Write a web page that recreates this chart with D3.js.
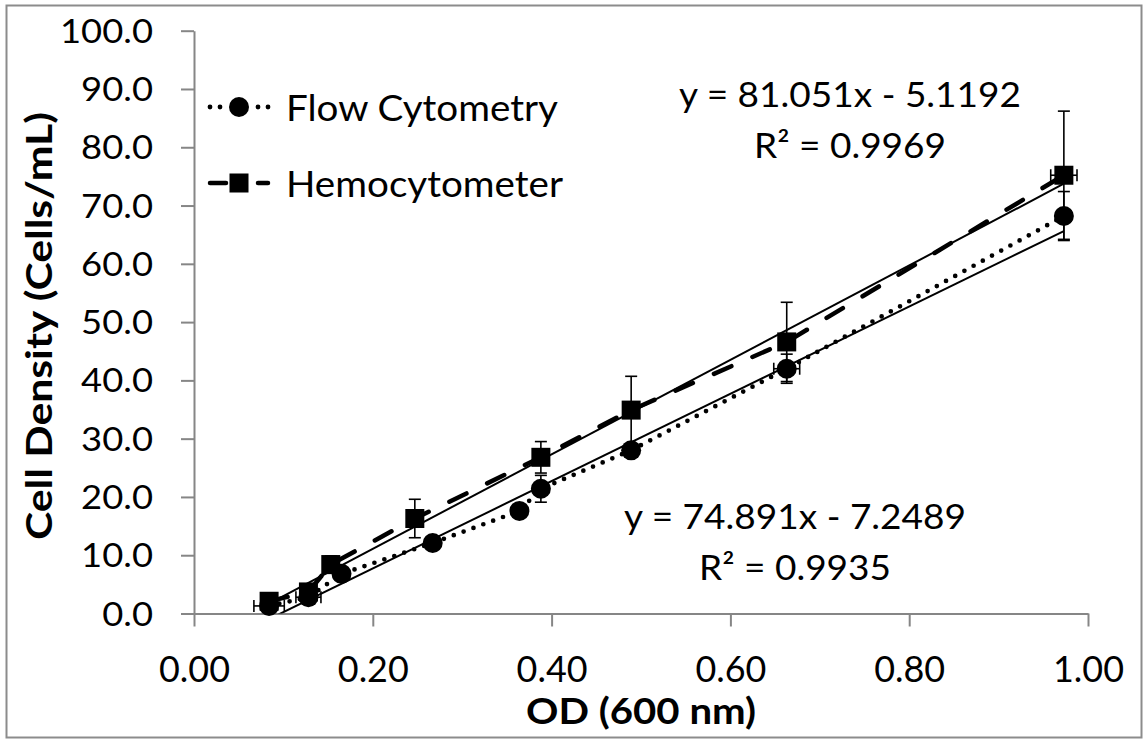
<!DOCTYPE html>
<html>
<head>
<meta charset="utf-8">
<script src="https://cdn.jsdelivr.net/npm/d3@7"></script>
<style>
  html, body { margin: 0; padding: 0; background: #fff; }
  svg { display: block; }
  text { font-family: Lato, "Open Sans", sans-serif; fill: #000; }
</style>
</head>
<body>
<svg id="chart" width="1144" height="740"></svg>
<script>
// ---------- data ----------
const seriesNames = ["Flow Cytometry", "Hemocytometer"];

const flowOD       = [0.084, 0.128, 0.165, 0.267, 0.364, 0.388, 0.489, 0.663, 0.973];
const flowDensity  = [1.3,   2.8,   6.8,   12.1,  17.6,  21.4,  28.0,  42.0,  68.2];
const flowErrY     = [0.5,   0.5,   0.5,   0.8,   0.6,   2.3,   1.0,   2.5,   4.2];
const flowErrX     = [0.017, 0.014, 0.005, 0.005, 0.005, 0.005, 0.005, 0.0145, 0.008];

const hemoOD       = [0.084, 0.128, 0.153, 0.247, 0.388, 0.489, 0.663, 0.973];
const hemoDensity  = [2.1,   3.7,   8.4,   16.3,  26.8,  34.9,  46.6,  75.2];
const hemoErrY     = [0.8,   1.0,   1.5,   3.3,   2.7,   5.8,   6.8,   11.0];
const hemoErrX     = [0.008, 0.008, 0.005, 0.005, 0.005, 0.005, 0.008, 0.0147];

const flowFit = [74.891, -7.2489];
const hemoFit = [81.051, -5.1192];
const flowFitLabels = ["y = 74.891x - 7.2489", "R\u00B2 = 0.9935"];
const hemoFitLabels = ["y = 81.051x - 5.1192", "R\u00B2 = 0.9969"];

const xTicks = [0, 0.2, 0.4, 0.6, 0.8, 1.0];
const yTicks = [0, 10, 20, 30, 40, 50, 60, 70, 80, 90, 100];
const xTitle = "OD (600 nm)";
const yTitle = "Cell Density (Cells/mL)";

// ---------- layout ----------
const svg = d3.select("#chart");
const axisColor = "#868686";
const x = d3.scaleLinear().domain([0, 1]).range([194, 1088]);
const y = d3.scaleLinear().domain([0, 100]).range([613.5, 30.7]);

function stretchTo(sel, targetWidthOfRef, refNode) {
  const refW = refNode.getComputedTextLength();
  const k = targetWidthOfRef / refW;
  sel.each(function () {
    const w = this.getComputedTextLength();
    this.setAttribute("textLength", w * k);
    this.setAttribute("lengthAdjust", "spacingAndGlyphs");
  });
}
function setLen(node, L) {
  node.setAttribute("textLength", L);
  node.setAttribute("lengthAdjust", "spacingAndGlyphs");
}

// outer border
svg.append("rect")
  .attr("x", 6.5).attr("y", 5.5).attr("width", 1135).attr("height", 732)
  .attr("fill", "none").attr("stroke", "#8c8c8c").attr("stroke-width", 2);

// ---------- axes ----------
const yAxis = svg.append("g")
  .attr("transform", `translate(${x(0)},0)`)
  .call(d3.axisLeft(y).tickValues(yTicks).tickFormat(d3.format(".1f"))
        .tickSize(13).tickSizeOuter(0).tickPadding(28));
yAxis.selectAll("path, line").attr("stroke", axisColor).attr("stroke-width", 2);
yAxis.selectAll("text").attr("font-size", 32).attr("font-family", "Lato").attr("dy", "0.36em");
const yTickTexts = yAxis.selectAll("text");
stretchTo(yTickTexts, 93, yTickTexts.nodes()[yTickTexts.size() - 1]);

const xAxis = svg.append("g")
  .attr("transform", `translate(0,${y(0)})`)
  .call(d3.axisBottom(x).tickValues(xTicks).tickFormat(d3.format(".2f"))
        .tickSize(13).tickSizeOuter(0));
xAxis.selectAll("path, line").attr("stroke", axisColor).attr("stroke-width", 2);
xAxis.selectAll("text").attr("font-size", 37).attr("font-family", "Lato")
  .attr("y", 68.2).attr("dy", "0");
const xTickTexts = xAxis.selectAll("text");
stretchTo(xTickTexts, 71, xTickTexts.nodes()[xTickTexts.size() - 1]);

// axis titles
const xt = svg.append("text")
  .attr("x", (x(0) + x(1)) / 2).attr("y", 724)
  .attr("text-anchor", "middle").attr("font-weight", "bold").attr("font-size", 37)
  .text(xTitle);
setLen(xt.node(), 230);

const yt = svg.append("text")
  .attr("transform", `translate(52,326) rotate(-90)`)
  .attr("text-anchor", "middle").attr("font-weight", "bold").attr("font-size", 36)
  .text(yTitle);
setLen(yt.node(), 428);

// ---------- plot ----------
svg.append("clipPath").attr("id", "plotClip")
  .append("rect").attr("x", x(0)).attr("y", y(100))
  .attr("width", x(1) - x(0)).attr("height", y(0) - y(100));

const plot = svg.append("g");
const flowPts = flowOD.map((d, i) => ({ x: d, y: flowDensity[i], ex: flowErrX[i], ey: flowErrY[i] }));
const hemoPts = hemoOD.map((d, i) => ({ x: d, y: hemoDensity[i], ex: hemoErrX[i], ey: hemoErrY[i] }));

const line = d3.line().x(d => x(d.x)).y(d => y(d.y));

// series connecting lines
plot.append("path").datum(flowPts).attr("d", line)
  .attr("fill", "none").attr("stroke", "#000").attr("stroke-width", 4.7)
  .attr("stroke-linecap", "round").attr("stroke-dasharray", "0,10.5");
plot.append("path").datum(hemoPts).attr("d", line)
  .attr("fill", "none").attr("stroke", "#000").attr("stroke-width", 4.5)
  .attr("stroke-linecap", "round").attr("stroke-dasharray", "19,23");

// trendlines
function trend(fit, xs) {
  const x0 = d3.min(xs), x1 = d3.max(xs);
  return [{ x: x0, y: fit[0] * x0 + fit[1] }, { x: x1, y: fit[0] * x1 + fit[1] }];
}
const trendG = plot.append("g").attr("clip-path", "url(#plotClip)");
[[flowFit, flowOD], [hemoFit, hemoOD]].forEach(([fit, xs]) => {
  trendG.append("path").datum(trend(fit, xs)).attr("d", line)
    .attr("fill", "none").attr("stroke", "#000").attr("stroke-width", 2);
});

// error bars
function errorBars(pts) {
  const g = plot.append("g").attr("stroke", "#000").attr("stroke-width", 1.6);
  const cap = 6;
  pts.forEach(p => {
    const cx = x(p.x), cy = y(p.y);
    const yt = y(p.y + p.ey), yb = y(p.y - p.ey);
    g.append("line").attr("x1", cx).attr("x2", cx).attr("y1", yt).attr("y2", yb);
    g.append("line").attr("x1", cx - cap).attr("x2", cx + cap).attr("y1", yt).attr("y2", yt);
    g.append("line").attr("x1", cx - cap).attr("x2", cx + cap).attr("y1", yb).attr("y2", yb);
    const xl = x(p.x - p.ex), xr = x(p.x + p.ex);
    g.append("line").attr("x1", xl).attr("x2", xr).attr("y1", cy).attr("y2", cy);
    g.append("line").attr("x1", xl).attr("x2", xl).attr("y1", cy - cap).attr("y2", cy + cap);
    g.append("line").attr("x1", xr).attr("x2", xr).attr("y1", cy - cap).attr("y2", cy + cap);
  });
}
errorBars(flowPts);
errorBars(hemoPts);

// markers
plot.append("g").selectAll("circle").data(flowPts).join("circle")
  .attr("cx", d => x(d.x)).attr("cy", d => y(d.y)).attr("r", 10).attr("fill", "#000");
plot.append("g").selectAll("rect").data(hemoPts).join("rect")
  .attr("x", d => x(d.x) - 9.5).attr("y", d => y(d.y) - 9.5)
  .attr("width", 19).attr("height", 19).attr("fill", "#000");

// trendline equations
function eqLabel(lines, cx, baseline) {
  const a = svg.append("text").attr("x", cx).attr("y", baseline)
    .attr("text-anchor", "middle").attr("font-size", 34).text(lines[0]);
  setLen(a.node(), 342);
  const b = svg.append("text").attr("x", cx).attr("y", baseline + 51)
    .attr("text-anchor", "middle").attr("font-size", 34).text(lines[1]);
  setLen(b.node(), 192);
}
eqLabel(hemoFitLabels, 850, 107);
eqLabel(flowFitLabels, 795, 529);

// ---------- legend ----------
const leg = svg.append("g");
const legY = [107, 183];
// Flow Cytometry: dotted + circle
[210, 220, 258, 268].forEach(cx => {
  leg.append("circle").attr("cx", cx).attr("cy", legY[0]).attr("r", 2.4).attr("fill", "#000");
});
leg.append("circle").attr("cx", 239).attr("cy", legY[0]).attr("r", 10).attr("fill", "#000");
// Hemocytometer: dashed + square
[[210, 226], [258, 268]].forEach(([a, b]) => {
  leg.append("line").attr("x1", a).attr("x2", b).attr("y1", legY[1]).attr("y2", legY[1])
    .attr("stroke", "#000").attr("stroke-width", 4.5).attr("stroke-linecap", "round");
});
leg.append("rect").attr("x", 239 - 9.5).attr("y", legY[1] - 9.5)
  .attr("width", 19).attr("height", 19).attr("fill", "#000");

const legLens = [272, 277];
seriesNames.forEach((name, i) => {
  const t = leg.append("text").attr("x", 286).attr("y", legY[i] + 13.5)
    .attr("font-size", 37).text(name);
  setLen(t.node(), legLens[i]);
});
</script>
</body>
</html>
